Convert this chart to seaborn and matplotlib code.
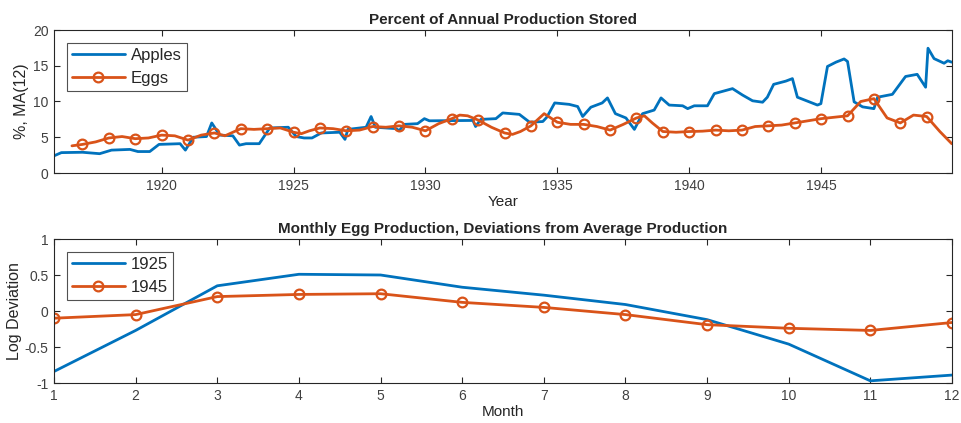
import matplotlib
matplotlib.use("Agg")
import matplotlib.pyplot as plt
import seaborn as sns
import pandas as pd
import numpy as np
from matplotlib.lines import Line2D

# ---- data ----
apple_years = [1915.92, 1916.2, 1917.0, 1917.65, 1918.1, 1918.8, 1919.1, 1919.55, 1919.9, 1920.7,
               1920.9, 1921.2, 1921.7, 1921.9, 1922.2, 1922.7, 1922.95, 1923.2, 1923.7, 1924.1,
               1924.8, 1925.1, 1925.4, 1925.7, 1926.05, 1926.75, 1926.95, 1927.06, 1927.75, 1927.94,
               1928.1, 1928.9, 1929.0, 1929.2, 1929.7, 1929.96, 1930.15, 1931.8, 1931.9, 1932.1,
               1932.67, 1932.93, 1933.56, 1933.95, 1934.45, 1934.6, 1934.9, 1935.45, 1935.77, 1935.96,
               1936.27, 1936.7, 1936.9, 1937.2, 1937.6, 1937.92, 1938.23, 1938.67, 1938.93, 1939.24,
               1939.75, 1939.94, 1940.19, 1940.69, 1940.95, 1941.64, 1942.02, 1942.4, 1942.78, 1942.96,
               1943.2, 1943.66, 1943.91, 1944.1, 1944.55, 1944.86, 1944.99, 1945.24, 1945.56, 1945.87,
               1946.0, 1946.25, 1946.57, 1947.0, 1947.14, 1947.7, 1948.2, 1948.64, 1948.96, 1949.05,
               1949.28, 1949.66, 1949.8, 1949.95]
apple_pct = [2.4, 2.85, 2.9, 2.7, 3.2, 3.3, 3.0, 3.0, 4.0, 4.1,
             3.2, 5.0, 5.1, 7.0, 5.3, 5.2, 3.9, 4.1, 4.1, 6.3,
             6.4, 5.1, 4.9, 4.9, 5.6, 5.7, 4.7, 6.1, 6.4, 7.9,
             6.4, 6.2, 5.9, 6.8, 6.9, 7.6, 7.3, 7.35, 6.5, 7.5,
             7.6, 8.4, 8.2, 7.1, 7.2, 7.8, 9.8, 9.6, 9.3, 7.9,
             9.2, 9.8, 10.5, 8.3, 7.7, 6.1, 8.3, 8.8, 10.5, 9.5,
             9.4, 9.0, 9.4, 9.4, 11.1, 11.8, 10.9, 10.1, 9.9, 10.6,
             12.4, 12.85, 13.2, 10.6, 9.95, 9.5, 9.7, 14.9, 15.5, 15.95,
             15.6, 9.95, 9.25, 9.0, 10.6, 11.0, 13.5, 13.8, 12.0, 17.45,
             16.0, 15.35, 15.7, 15.5]

egg_years = [1916.6, 1917, 1917.5, 1918, 1918.5, 1919, 1919.5, 1920, 1920.5, 1921,
             1921.5, 1922, 1922.4, 1923, 1923.5, 1924, 1924.5, 1925, 1925.3, 1925.6,
             1926, 1926.5, 1927, 1927.5, 1928, 1928.5, 1929, 1929.5, 1930, 1930.5,
             1931, 1931.3, 1931.6, 1932, 1932.5, 1933, 1933.3, 1933.6, 1934, 1934.5,
             1935, 1935.5, 1936, 1936.5, 1937, 1937.5, 1938, 1938.3, 1938.6, 1939,
             1939.5, 1940, 1940.5, 1941, 1941.5, 1942, 1942.5, 1943, 1943.5, 1944,
             1944.5, 1945, 1945.5, 1946, 1946.5, 1947, 1947.5, 1948, 1948.5, 1949,
             1949.5, 1949.95]
egg_pct = [3.8, 4.0, 4.35, 4.9, 5.1, 4.8, 4.9, 5.3, 5.2, 4.6,
           5.3, 5.6, 5.2, 6.2, 6.1, 6.2, 6.3, 5.7, 5.5, 5.9,
           6.3, 6.2, 5.9, 6.0, 6.5, 6.4, 6.6, 6.4, 5.9, 6.9,
           7.6, 8.1, 8.0, 7.4, 6.4, 5.6, 5.4, 5.8, 6.6, 8.3,
           7.1, 6.8, 6.8, 6.5, 6.0, 6.8, 7.7, 8.0, 7.0, 5.8,
           5.7, 5.8, 5.85, 6.0, 5.9, 6.0, 6.5, 6.6, 6.7, 7.0,
           7.3, 7.6, 7.8, 8.0, 10.0, 10.4, 7.7, 7.0, 8.1, 7.9,
           5.8, 4.1]

months = list(range(1, 13))
dev_1925 = [-0.84, -0.27, 0.35, 0.51, 0.50, 0.33, 0.22, 0.09, -0.12, -0.46, -0.97, -0.89]
dev_1945 = [-0.10, -0.05, 0.20, 0.23, 0.24, 0.12, 0.05, -0.05, -0.19, -0.24, -0.27, -0.16]

year_ticks = [1920, 1925, 1930, 1935, 1940, 1945]
pct_ticks = [0, 5, 10, 15, 20]
dev_ticks = [-1, -0.5, 0, 0.5, 1]
dev_tick_labels = ["-1", "-0.5", "0", "0.5", "1"]

BLUE = "#0072BD"
ORANGE = "#D95319"
GREY = "#262626"
TICKGREY = "#404040"

sns.set_theme(style="white")
plt.rcParams["font.family"] = ["Liberation Sans", "DejaVu Sans"]
plt.rcParams["axes.unicode_minus"] = False

fig = plt.figure(figsize=(9.61, 4.23), dpi=100)
ax1 = fig.add_axes([54 / 961, 1 - 173 / 423, 898 / 961, 143 / 423])
ax2 = fig.add_axes([54 / 961, 1 - 383 / 423, 898 / 961, 144 / 423])

apples = pd.DataFrame({"year": apple_years, "pct": apple_pct})
eggs = pd.DataFrame({"year": egg_years, "pct": egg_pct})
marker_idx = [i for i, y in enumerate(egg_years) if float(y).is_integer()]

sns.lineplot(data=apples, x="year", y="pct", ax=ax1, color=BLUE, lw=2, legend=False)
sns.lineplot(data=eggs, x="year", y="pct", ax=ax1, color=ORANGE, lw=2, legend=False,
             marker="o", markevery=marker_idx, markersize=7, markerfacecolor="none",
             markeredgecolor=ORANGE, markeredgewidth=1.6)

devs = pd.DataFrame({"month": months, "d1925": dev_1925, "d1945": dev_1945})
sns.lineplot(data=devs, x="month", y="d1925", ax=ax2, color=BLUE, lw=2, legend=False)
sns.lineplot(data=devs, x="month", y="d1945", ax=ax2, color=ORANGE, lw=2, legend=False,
             marker="o", markersize=7, markerfacecolor="none",
             markeredgecolor=ORANGE, markeredgewidth=1.6)

ax1.set_xlim(1915.92, 1949.96)
ax1.set_ylim(0, 20)
ax1.set_xticks(year_ticks)
ax1.set_yticks(pct_ticks)
ax1.set_xlabel("Year", fontsize=11, color=GREY, labelpad=2)
ax1.set_ylabel("%, MA(12)", fontsize=11.5, color=GREY, labelpad=3)
ax1.set_title("Percent of Annual Production Stored", fontsize=11, fontweight="bold", pad=4)

ax2.set_xlim(1, 12)
ax2.set_ylim(-1, 1)
ax2.set_xticks(months)
ax2.set_yticks(dev_ticks)
ax2.set_yticklabels(dev_tick_labels)
ax2.set_xlabel("Month", fontsize=11, color=GREY, labelpad=2)
ax2.set_ylabel("Log Deviation", fontsize=11.5, color=GREY, labelpad=2)
ax2.set_title("Monthly Egg Production, Deviations from Average Production",
              fontsize=11, fontweight="bold", pad=4)

for ax in (ax1, ax2):
    for s in ax.spines.values():
        s.set_color(GREY)
        s.set_linewidth(0.8)
    ax.tick_params(direction="in", length=4, width=0.8, color=GREY, labelcolor=TICKGREY,
                   labelsize=10, top=True, right=True, bottom=True, left=True, pad=4)

def make_legend(ax, labels):
    handles = [Line2D([], [], color=BLUE, lw=2),
               Line2D([], [], color=ORANGE, lw=2, marker="o", markersize=7,
                      markerfacecolor="none", markeredgewidth=1.6)]
    leg = ax.legend(handles, labels, loc="upper left", bbox_to_anchor=(0.014, 0.91),
                    fontsize=12, frameon=True, fancybox=False, handlelength=3.2,
                    borderpad=0.3, labelspacing=0.5, handletextpad=0.35, borderaxespad=0)
    leg.get_frame().set_edgecolor(GREY)
    leg.get_frame().set_linewidth(0.8)

make_legend(ax1, ["Apples", "Eggs"])
make_legend(ax2, ["1925", "1945"])

fig.savefig("out.png", dpi=100)
